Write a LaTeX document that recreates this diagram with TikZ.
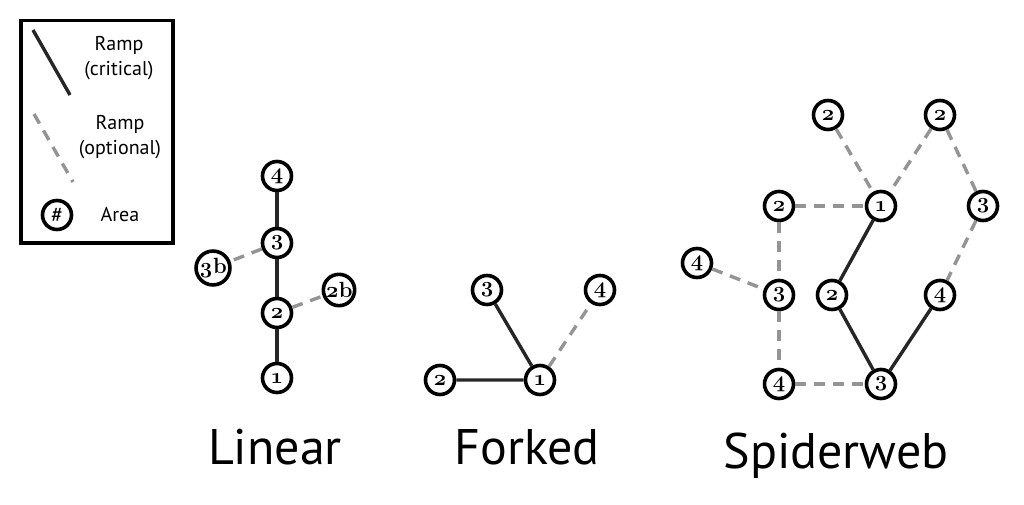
\documentclass[tikz,border=0pt]{standalone}
\usepackage{fontspec}
\setmainfont{Latin Modern Roman}[Numbers=OldStyle]
\setsansfont{PT Sans}
\begin{document}
\begin{tikzpicture}[x=1pt,y=-1pt,
  area/.style={circle,draw=black,line width=3.6pt,fill=white,minimum size=29pt,inner sep=0pt,font=\bfseries\fontsize{22}{22}\selectfont},
  crit/.style={line width=3.4pt,draw=black!85},
  opt/.style={line width=3.4pt,draw=black!42,dash pattern=on 11pt off 8pt},
  lbl/.style={font=\sffamily\fontsize{20}{25}\selectfont,align=center},
  ttl/.style={font=\sffamily\fontsize{50}{52}\selectfont,anchor=base}]
\useasboundingbox (0,0) rectangle (1024,505);
% legend
\node[draw=black,line width=3.5pt,minimum width=152pt,minimum height=222pt,anchor=north west] (legend) at (19,19) {};
\coordinate (c1) at (33,30); \coordinate (c2) at (70,95);
\draw[crit] (c1) -- (c2);
\coordinate (o1) at (34,114); \coordinate (o2) at (73,182);
\draw[opt] (o1) -- (o2);
\node[lbl] (l1) at (119,58) {Ramp\\(critical)};
\node[lbl] (l2) at (120,137) {Ramp\\(optional)};
\node[area,font=\sffamily\fontsize{22}{22}\selectfont] (la) at (57,215) {\#};
\node[lbl] (l3) at (120,215) {Area};
% linear
\node[area] (a4) at (277,176) {4};
\node[area] (a3) at (277,243) {3};
\node[area] (a2) at (277,313) {2};
\node[area] (a1) at (277,378) {1};
\node[area] (a3b) at (213,268) {3b};
\node[area] (a2b) at (339,290) {2b};
\draw[crit] (a1) -- (a2) -- (a3) -- (a4);
\draw[opt] (a3) -- (a3b);
\draw[opt] (a2) -- (a2b);
% forked
\node[area] (f3) at (487,290) {3};
\node[area] (f4) at (600,290) {4};
\node[area] (f2) at (440,380) {2};
\node[area] (f1) at (540,380) {1};
\draw[crit] (f2) -- (f1) -- (f3);
\draw[opt] (f1) -- (f4);
% spiderweb
\node[area] (s2a) at (828,115) {2};
\node[area] (s2b) at (940,115) {2};
\node[area] (s2c) at (779,206) {2};
\node[area] (s1) at (881,206) {1};
\node[area] (s3a) at (983,206) {3};
\node[area] (s4a) at (697,263) {4};
\node[area] (s3b) at (779,295) {3};
\node[area] (s2d) at (832,295) {2};
\node[area] (s4b) at (940,295) {4};
\node[area] (s4c) at (779,384) {4};
\node[area] (s3c) at (881,384) {3};
\draw[opt] (s2a) -- (s1);
\draw[opt] (s2b) -- (s1);
\draw[opt] (s2b) -- (s3a);
\draw[opt] (s2c) -- (s1);
\draw[opt] (s2c) -- (s3b);
\draw[opt] (s4a) -- (s3b);
\draw[opt] (s3b) -- (s4c);
\draw[opt] (s4c) -- (s3c);
\draw[opt] (s3a) -- (s4b);
\draw[crit] (s1) -- (s2d) -- (s3c) -- (s4b);
% titles
\node[ttl] (t1) at (275,464) {Linear};
\node[ttl] (t2) at (527,464) {Forked};
\node[ttl] (t3) at (836,468) {Spiderweb};
\end{tikzpicture}
\end{document}
